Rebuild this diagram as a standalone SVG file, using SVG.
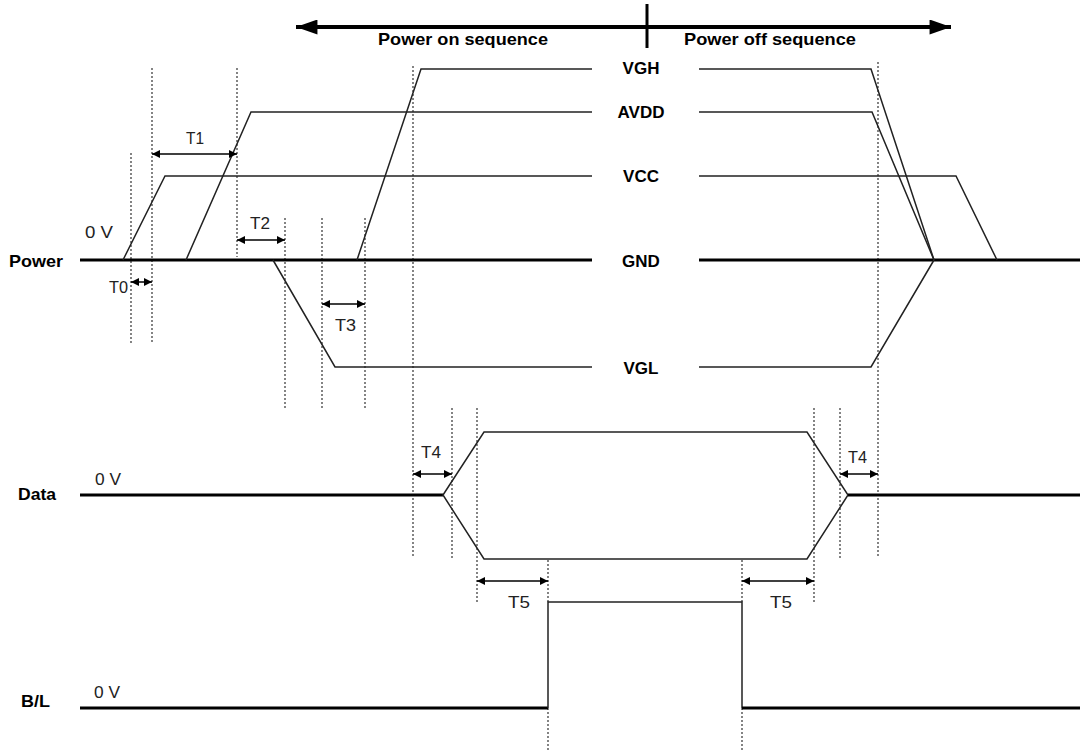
<svg xmlns="http://www.w3.org/2000/svg" width="1080" height="751" viewBox="0 0 1080 751">
<defs>
<style>
.bg{fill:#fff}
.sig{fill:none;stroke:#222;stroke-width:1.5}
.base{fill:none;stroke:#000;stroke-width:3}
.dot{fill:none;stroke:#333;stroke-width:1.2;stroke-dasharray:2 2}
.dim{fill:none;stroke:#000;stroke-width:1.5;marker-start:url(#ah);marker-end:url(#ah)}
.lbl{font-family:"Liberation Sans",Arial,sans-serif;font-size:17px;font-weight:bold;fill:#000}
.rl{font-family:"Liberation Sans",Arial,sans-serif;font-size:17px;fill:#222}
.mid{text-anchor:middle}
</style>
<marker id="ah" viewBox="0 0 10 10" refX="10" refY="5" markerWidth="8" markerHeight="8" markerUnits="userSpaceOnUse" orient="auto-start-reverse">
<path d="M0,0 L10,5 L0,10 Z" fill="#000"/>
</marker>
<marker id="big" viewBox="0 0 20 14" refX="20" refY="7" markerWidth="22" markerHeight="15" markerUnits="userSpaceOnUse" orient="auto-start-reverse">
<path d="M0,0 L20,7 L0,14 Z" fill="#000"/>
</marker>
</defs>
<rect class="bg" x="0" y="0" width="1080" height="751"/>

<g id="sequence-axis">
<line x1="296" y1="27" x2="951" y2="27" stroke="#000" stroke-width="4" marker-start="url(#big)" marker-end="url(#big)"/>
<line x1="647" y1="4" x2="647" y2="48" stroke="#000" stroke-width="3"/>
<text class="lbl" x="378" y="45" textLength="170" lengthAdjust="spacingAndGlyphs">Power on sequence</text>
<text class="lbl" x="684" y="45" textLength="172" lengthAdjust="spacingAndGlyphs">Power off sequence</text>
</g>

<g id="guides">
<line class="dot" x1="131" y1="153" x2="131" y2="345"/>
<line class="dot" x1="152" y1="68" x2="152" y2="343"/>
<line class="dot" x1="237" y1="68" x2="237" y2="257"/>
<line class="dot" x1="285" y1="218" x2="285" y2="408"/>
<line class="dot" x1="322" y1="218" x2="322" y2="408"/>
<line class="dot" x1="365" y1="218" x2="365" y2="408"/>
<line class="dot" x1="413" y1="66" x2="413" y2="558"/>
<line class="dot" x1="452" y1="408" x2="452" y2="558"/>
<line class="dot" x1="477" y1="408" x2="477" y2="602"/>
<line class="dot" x1="548" y1="560" x2="548" y2="602"/>
<line class="dot" x1="548" y1="708" x2="548" y2="751"/>
<line class="dot" x1="742" y1="560" x2="742" y2="602"/>
<line class="dot" x1="742" y1="708" x2="742" y2="751"/>
<line class="dot" x1="814" y1="408" x2="814" y2="602"/>
<line class="dot" x1="840" y1="408" x2="840" y2="558"/>
<line class="dot" x1="878" y1="62" x2="878" y2="558"/>
</g>

<g id="power">
<text class="lbl" x="9" y="267" textLength="54" lengthAdjust="spacingAndGlyphs">Power</text>
<text class="rl" x="85" y="238" textLength="28" lengthAdjust="spacingAndGlyphs">0 V</text>
<line class="base" x1="80" y1="260" x2="592" y2="260"/>
<line class="base" x1="699" y1="260" x2="1080" y2="260"/>
</g>

<g id="vgh">
<polyline class="sig" points="357,260 421,69 592,69"/>
<polyline class="sig" points="699,69 871,69 934,260"/>
<text class="lbl mid" x="641" y="74">VGH</text>
</g>
<g id="avdd">
<polyline class="sig" points="186,260 251,112 592,112"/>
<polyline class="sig" points="699,112 872,112 934,260"/>
<text class="lbl mid" x="641" y="118">AVDD</text>
</g>
<g id="vcc">
<polyline class="sig" points="123,260 165,176 592,176"/>
<polyline class="sig" points="699,176 956,176 997,260"/>
<text class="lbl mid" x="641" y="182">VCC</text>
</g>
<g id="gnd">
<text class="lbl mid" x="641" y="267">GND</text>
</g>
<g id="vgl">
<polyline class="sig" points="273,260 335,367 592,367"/>
<polyline class="sig" points="699,367 871,367 934,260"/>
<text class="lbl mid" x="641" y="374">VGL</text>
</g>

<g id="data">
<text class="lbl" x="18" y="500" textLength="38" lengthAdjust="spacingAndGlyphs">Data</text>
<text class="rl" x="95" y="485" textLength="26" lengthAdjust="spacingAndGlyphs">0 V</text>
<line class="base" x1="80" y1="495" x2="443" y2="495"/>
<polygon class="sig" points="443,495 484,432 807,432 848,495 807,559 484,559"/>
<line class="base" x1="848" y1="495" x2="1080" y2="495"/>
</g>

<g id="backlight">
<text class="lbl" x="21" y="707" textLength="29" lengthAdjust="spacingAndGlyphs">B/L</text>
<text class="rl" x="94" y="698" textLength="26" lengthAdjust="spacingAndGlyphs">0 V</text>
<line class="base" x1="80" y1="708" x2="548" y2="708"/>
<polyline class="sig" points="548,708 548,602 742,602 742,708"/>
<line class="base" x1="742" y1="708" x2="1080" y2="708"/>
</g>

<g id="timing-dimensions">
<line class="dim" x1="131" y1="282" x2="152" y2="282"/>
<text class="rl" x="109" y="293" textLength="19" lengthAdjust="spacingAndGlyphs">T0</text>
<line class="dim" x1="152" y1="154" x2="237" y2="154"/>
<text class="rl" x="186" y="144" textLength="18" lengthAdjust="spacingAndGlyphs">T1</text>
<line class="dim" x1="237" y1="240" x2="285" y2="240"/>
<text class="rl" x="250" y="229" textLength="20" lengthAdjust="spacingAndGlyphs">T2</text>
<line class="dim" x1="322" y1="304" x2="365" y2="304"/>
<text class="rl" x="335" y="331" textLength="21" lengthAdjust="spacingAndGlyphs">T3</text>
<line class="dim" x1="413" y1="474" x2="452" y2="474"/>
<text class="rl" x="421" y="458" textLength="20" lengthAdjust="spacingAndGlyphs">T4</text>
<line class="dim" x1="840" y1="474" x2="878" y2="474"/>
<text class="rl" x="848" y="463" textLength="19" lengthAdjust="spacingAndGlyphs">T4</text>
<line class="dim" x1="477" y1="581" x2="548" y2="581"/>
<text class="rl" x="508" y="608" textLength="22" lengthAdjust="spacingAndGlyphs">T5</text>
<line class="dim" x1="742" y1="581" x2="814" y2="581"/>
<text class="rl" x="770" y="608" textLength="22" lengthAdjust="spacingAndGlyphs">T5</text>
</g>
</svg>
